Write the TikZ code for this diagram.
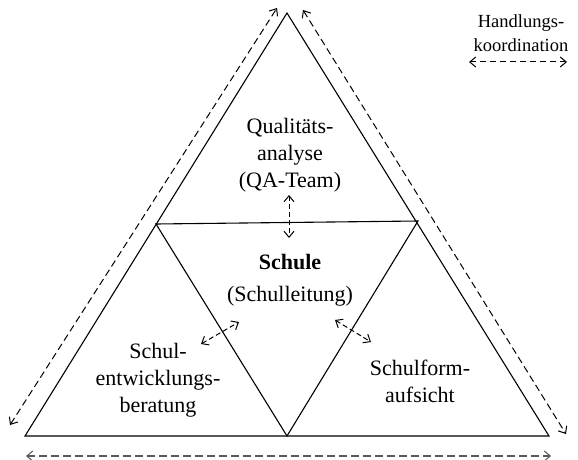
\documentclass[tikz,border=0pt]{standalone}
\usepackage{fontspec}
\setmainfont{Liberation Serif}
\usetikzlibrary{arrows.meta}
\begin{document}
\begin{tikzpicture}[x=1pt,y=-1pt,
  edge/.style={line width=1.1pt},
  tip/.tip={Straight Barb[length=6pt,width=10pt,line width=1pt]},
  hk/.style={dash pattern=on 7pt off 4pt, line width=1pt, {tip}-{tip}},
  hkgray/.style={hk, draw=black!65, line width=1.3pt, dash pattern=on 8pt off 4pt},
  lbl/.style={align=center, font=\fontsize{22}{27}\selectfont, inner sep=0pt},
  leg/.style={align=center, font=\fontsize{18.5}{24}\selectfont, inner sep=0pt},
]
\useasboundingbox (0,0) rectangle (578,460);
% outer triangle
\coordinate (A) at (287,13);
\coordinate (B) at (25,436);
\coordinate (C) at (549,436);
% inner triangle (midpoints)
\coordinate (L) at (156,224);
\coordinate (R) at (418,221);
\coordinate (M) at (287,436);
\draw[edge] (A) -- (B) -- (C) -- cycle;
\draw[edge] (L) -- (R) -- (M) -- cycle;
% coordination arrows along the sides
\coordinate (l1) at (277,8);
\coordinate (l2) at (10,425);
\coordinate (r1) at (303,10);
\coordinate (r2) at (566,434);
\coordinate (b1) at (26,456);
\coordinate (b2) at (551,456);
\draw[hk] (l2) -- (l1);
\draw[hk] (r1) -- (r2);
\draw[hkgray] (b1) -- (b2);
% labels
\node[lbl] (qa) at (290,155) {Qualitäts-\\analyse\\(QA-Team)};
\node[lbl, font=\fontsize{22}{32}\selectfont] (schule) at (290,280) {\textbf{Schule}\\(Schulleitung)};
\node[lbl] (seb) at (158,380) {Schul-\\entwicklungs-\\beratung};
\node[lbl] (sfa) at (420,381) {Schulform-\\aufsicht};
\node[leg] (legtxt) at (521,33) {Handlungs-\\koordination};
% small arrows
\coordinate (v1) at (289,195);
\coordinate (v2) at (289,238);
\coordinate (d1) at (201,344);
\coordinate (d2) at (239,322);
\coordinate (e1) at (335,320);
\coordinate (e2) at (371,342);
\coordinate (g1) at (469,62);
\coordinate (g2) at (567,62);
\draw[hk, dash pattern=on 5pt off 3pt] (v1) -- (v2);
\draw[hk, dash pattern=on 5pt off 3pt] (d1) -- (d2);
\draw[hk, dash pattern=on 5pt off 3pt] (e1) -- (e2);
\draw[hk, dash pattern=on 6pt off 4pt] (g1) -- (g2);
\end{tikzpicture}
\end{document}
